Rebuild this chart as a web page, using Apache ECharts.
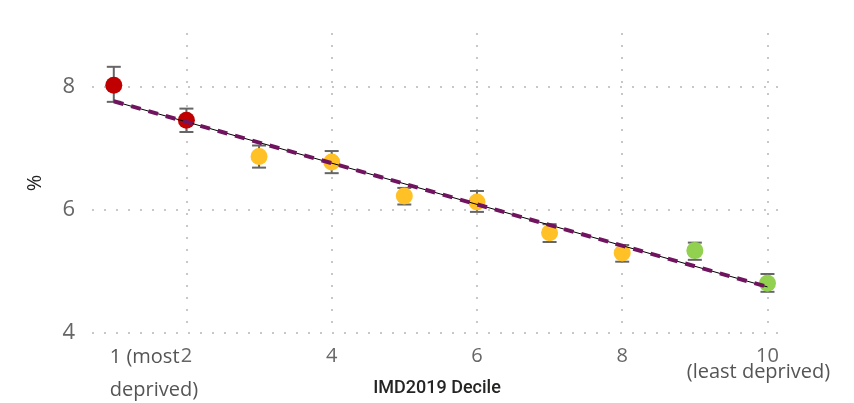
<!DOCTYPE html>
<html>
<head>
<meta charset="utf-8">
<script src="https://cdn.jsdelivr.net/npm/echarts@6/dist/echarts.min.js"></script>
<style>
  html, body { margin: 0; padding: 0; background: #fff; }
  #chart { width: 854px; height: 403px; }
</style>
</head>
<body>
<div id="chart"></div>
<script>
// IMD2019 decile, observed %, 95% CI
const deciles = [1, 2, 3, 4, 5, 6, 7, 8, 9, 10];
const values = [8.03, 7.46, 6.87, 6.78, 6.23, 6.13, 5.63, 5.30, 5.34, 4.81];
const lower = [7.76, 7.27, 6.69, 6.60, 6.09, 5.97, 5.48, 5.16, 5.19, 4.67];
const upper = [8.33, 7.65, 7.05, 6.96, 6.36, 6.31, 5.77, 5.43, 5.47, 4.96];
// significance band per decile
const band = ['worse', 'worse', 'similar', 'similar', 'similar', 'similar', 'similar', 'similar', 'better', 'better'];
// trend line end points
const trendX = [1, 10];
const trendY = [7.77, 4.75];
const xTicks = [2, 4, 6, 8, 10];
const yTicks = [4, 6, 8];

const bandColor = { worse: '#C00000', similar: '#FFC125', better: '#92D050' };
const font = '"Open Sans", "Noto Sans", sans-serif';

const chart = echarts.init(document.getElementById('chart'));

const points = deciles.map((d, i) => ({
  value: [d, values[i]],
  itemStyle: { color: bandColor[band[i]], opacity: 1 }
}));
const bars = deciles.map((d, i) => [d, lower[i], upper[i]]);
const trend = trendX.map((x, i) => [x, trendY[i]]);

const option = {
  animation: false,
  grid: { left: 92, right: 72, top: 33, bottom: 70, outerBoundsMode: 'none' },
  xAxis: [
    {
      type: 'value',
      min: 0.7,
      max: 10.2,
      name: 'IMD2019 Decile',
      nameLocation: 'middle',
      nameGap: 46,
      nameMoveOverlap: false,
      nameTextStyle: { color: '#252423', fontSize: 18, fontWeight: 500, fontFamily: 'Roboto, sans-serif' },
      axisLine: { show: false },
      axisTick: { show: false, customValues: xTicks },
      splitLine: {
        show: true,
        lineStyle: { color: '#c8c8c8', width: 2, type: [2, 10] }
      },
      axisLabel: {
        customValues: xTicks,
        margin: 15,
        color: '#666',
        fontSize: 20,
        lineHeight: 16,
        fontFamily: font,
        formatter: v => v === 10 ? '10\n{s|(least deprived)}' : String(v),
        rich: { s: { fontSize: 20, lineHeight: 16, color: '#555', fontFamily: font, padding: [0, 18, 0, 0] } }
      }
    },
    {
      type: 'value',
      position: 'bottom',
      min: 0.7,
      max: 10.2,
      axisLine: { show: false },
      axisTick: { show: false, customValues: [1] },
      splitLine: { show: false },
      axisLabel: {
        customValues: [1],
        align: 'left',
        margin: 8,
        color: '#555',
        fontSize: 20,
        lineHeight: 33,
        fontFamily: font,
        formatter: () => '{p|1 (most}\n{p|deprived)}',
        rich: { p: { fontSize: 20, lineHeight: 33, color: '#555', fontFamily: font, padding: [0, 0, 0, -4] } }
      }
    }
  ],
  yAxis: {
    type: 'value',
    min: 4,
    max: 8.88,
    name: '%',
    nameLocation: 'middle',
    nameGap: 47,
    nameMoveOverlap: false,
    nameTextStyle: { color: '#222', fontSize: 20, fontFamily: font },
    axisLine: { show: false },
    axisTick: { show: false, customValues: yTicks },
    splitLine: {
      show: true,
      lineStyle: { color: '#c8c8c8', width: 2, type: [2, 10] }
    },
    axisLabel: {
      customValues: yTicks,
      margin: 17,
      color: '#666',
      fontSize: 22,
      fontFamily: font
    }
  },
  series: [
    {
      type: 'custom',
      z: 1,
      data: bars,
      renderItem: (params, api) => {
        const x = api.value(0);
        const lo = api.coord([x, api.value(1)]);
        const hi = api.coord([x, api.value(2)]);
        const cap = 7;
        const style = { stroke: '#666', lineWidth: 2 };
        return {
          type: 'group',
          children: [
            { type: 'line', shape: { x1: lo[0], y1: lo[1], x2: hi[0], y2: hi[1] }, style },
            { type: 'line', shape: { x1: hi[0] - cap, y1: hi[1], x2: hi[0] + cap, y2: hi[1] }, style },
            { type: 'line', shape: { x1: lo[0] - cap, y1: lo[1], x2: lo[0] + cap, y2: lo[1] }, style }
          ]
        };
      }
    },
    {
      type: 'scatter',
      z: 2,
      symbolSize: 17,
      data: points
    },
    {
      type: 'line',
      z: 3,
      data: trend,
      showSymbol: false,
      lineStyle: { color: '#000', width: 1 }
    },
    {
      type: 'line',
      z: 4,
      data: trend,
      showSymbol: false,
      lineStyle: { color: '#70145F', width: 4, type: [10, 8] }
    }
  ]
};

chart.setOption(option);
</script>
</body>
</html>
